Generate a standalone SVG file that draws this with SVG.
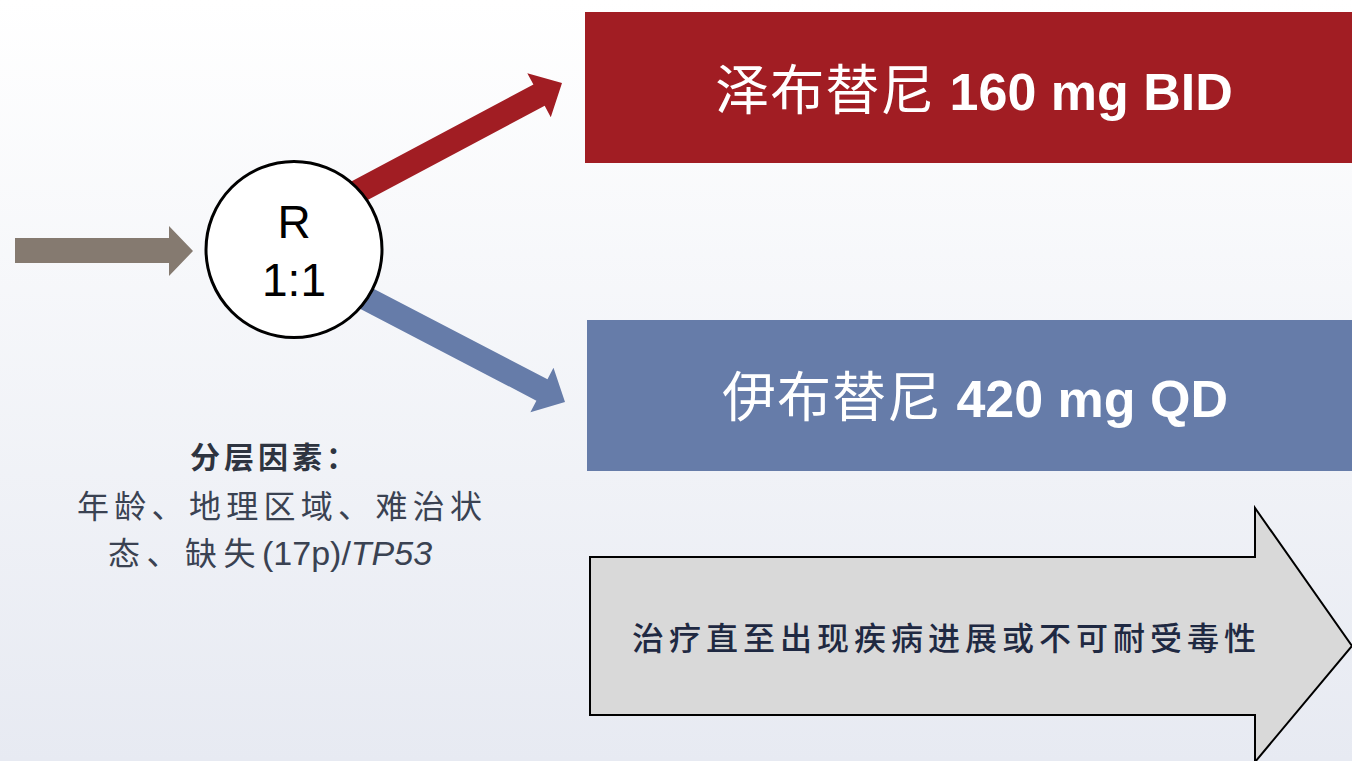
<svg xmlns="http://www.w3.org/2000/svg" width="1352" height="761" viewBox="0 0 1352 761">
  <defs>
    <linearGradient id="bg" x1="0" y1="0" x2="0" y2="1">
      <stop offset="0" stop-color="#ffffff"/>
      <stop offset="1" stop-color="#e7eaf2"/>
    </linearGradient>
    <path id="armArrow" d="M-260,-12 L-26,-12 L-26,-25 L0,0 L-26,25 L-26,12 L-260,12 Z"/>
  </defs>
  <style>
    .lat { font-family: "Liberation Sans", Arial, "Noto Sans CJK SC", sans-serif; }
    .cjk { font-family: "Noto Sans CJK SC", "Liberation Sans", sans-serif; }
    .armtxt { fill: #ffffff; font-size: 52px; }
    .strat { fill: #3a4252; font-size: 32px; }
  </style>
  <rect x="0" y="0" width="1352" height="761" fill="url(#bg)"/>

  <g id="connectors">
    <polygon id="input-arrow" points="15,238 169,238 169,226 193,251 169,276 169,263 15,263" fill="#857a70"/>
    <use href="#armArrow" transform="translate(562,83) rotate(-28)" fill="#a11d23"/>
    <use href="#armArrow" transform="translate(565,402) rotate(27.5)" fill="#667ca9"/>
  </g>

  <g id="randomization">
    <circle cx="294" cy="249.5" r="88" fill="#ffffff" stroke="#000000" stroke-width="3"/>
    <text class="lat" x="294" y="238" font-size="46" text-anchor="middle" fill="#000000">R</text>
    <text class="lat" x="294" y="296" font-size="46" text-anchor="middle" fill="#000000">1:1</text>
  </g>

  <g id="arm-zanubrutinib">
    <rect x="585" y="12" width="767" height="151" fill="#a11d23"/>
    <text class="lat armtxt" x="974" y="110" text-anchor="middle"><tspan class="cjk" font-size="54" letter-spacing="1">泽布替尼</tspan><tspan font-weight="bold"> 160 mg BID</tspan></text>
  </g>

  <g id="arm-ibrutinib">
    <rect x="587" y="320" width="765" height="151" fill="#667ca9"/>
    <text class="lat armtxt" x="975" y="417" text-anchor="middle"><tspan class="cjk" font-size="54" letter-spacing="1">伊布替尼</tspan><tspan font-weight="bold"> 420 mg QD</tspan></text>
  </g>

  <g id="stratification">
    <text class="cjk" x="190" y="468" font-size="30" font-weight="bold" letter-spacing="4" fill="#2e3440">分层因素：</text>
    <text class="cjk strat" x="77" y="518" letter-spacing="5.3">年龄、地理区域、难治状</text>
    <text class="strat" x="108" y="565"><tspan class="cjk" letter-spacing="6.5">态、缺失</tspan><tspan class="lat" font-size="34">(17p)/</tspan><tspan class="lat" font-size="34" font-style="italic">TP53</tspan></text>
  </g>

  <g id="treatment-arrow">
    <polygon points="590,557 1255,557 1255,508 1352,646 1255,762 1255,715 590,715" fill="#d9d9d9" stroke="#000000" stroke-width="2"/>
    <text class="cjk" x="632" y="650" font-size="32" font-weight="500" letter-spacing="5" fill="#1f2942">治疗直至出现疾病进展或不可耐受毒性</text>
  </g>
</svg>
